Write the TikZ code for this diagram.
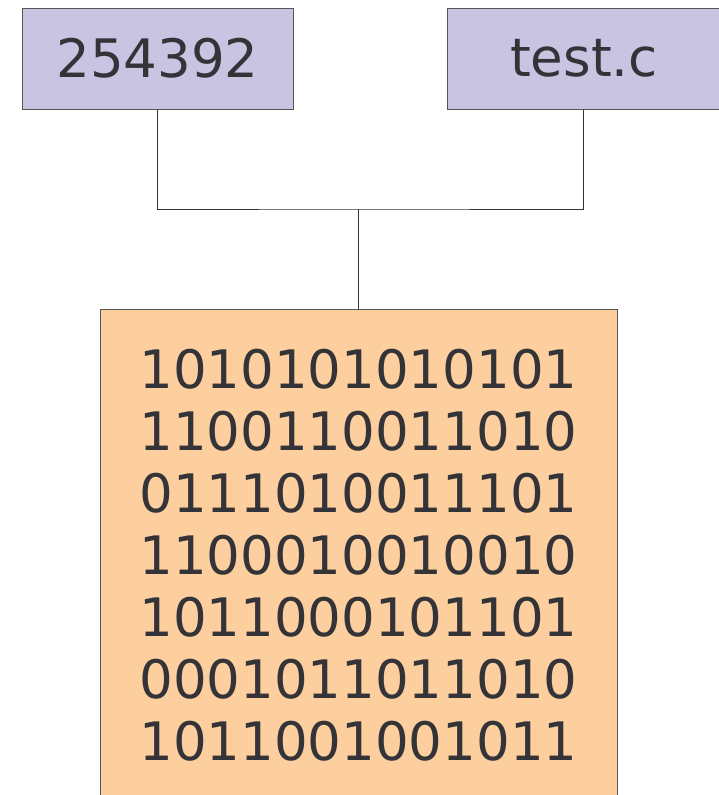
\documentclass[tikz,border=0pt]{standalone}
\usepackage{fontspec}
\setmainfont{DejaVu Sans}
\definecolor{boxpurple}{HTML}{C8C4E2}
\definecolor{boxorange}{HTML}{FDCF9E}
\definecolor{inktext}{HTML}{333338}
\definecolor{inkline}{HTML}{555555}
\begin{document}
\begin{tikzpicture}[x=1pt,y=-1pt,
  inbox/.style={draw=inkline, line width=1pt, fill=boxpurple, text=inktext,
    inner sep=0pt, minimum height=101pt, font=\fontsize{53}{62}\selectfont},
  outbox/.style={draw=inkline, line width=1pt, fill=boxorange, text=inktext,
    inner sep=0pt, align=center, font=\fontsize{53}{62}\selectfont},
  wire/.style={draw=inktext, line width=1pt}]
  \useasboundingbox (0,0) rectangle (719,795);
  \clip (0,0) rectangle (719,795);
  \node[inbox, minimum width=271pt] (num) at (157.5,58.5) {254392};
  \node[inbox, minimum width=274pt] (src) at (584,58.5) {test.c};
  \node[outbox, minimum width=517pt, minimum height=492pt] (bin) at (358.5,555)
    {1010101010101\\1100110011010\\0111010011101\\1100010010010\\1011000101101\\0001011011010\\1011001001011};
  \coordinate (join) at (358,209);
  \draw[wire] (num.south -| 157,0) |- (join) -| (src.south -| 583,0);
  \draw[wire] (join) -- (bin.north -| join);
\end{tikzpicture}
\end{document}
